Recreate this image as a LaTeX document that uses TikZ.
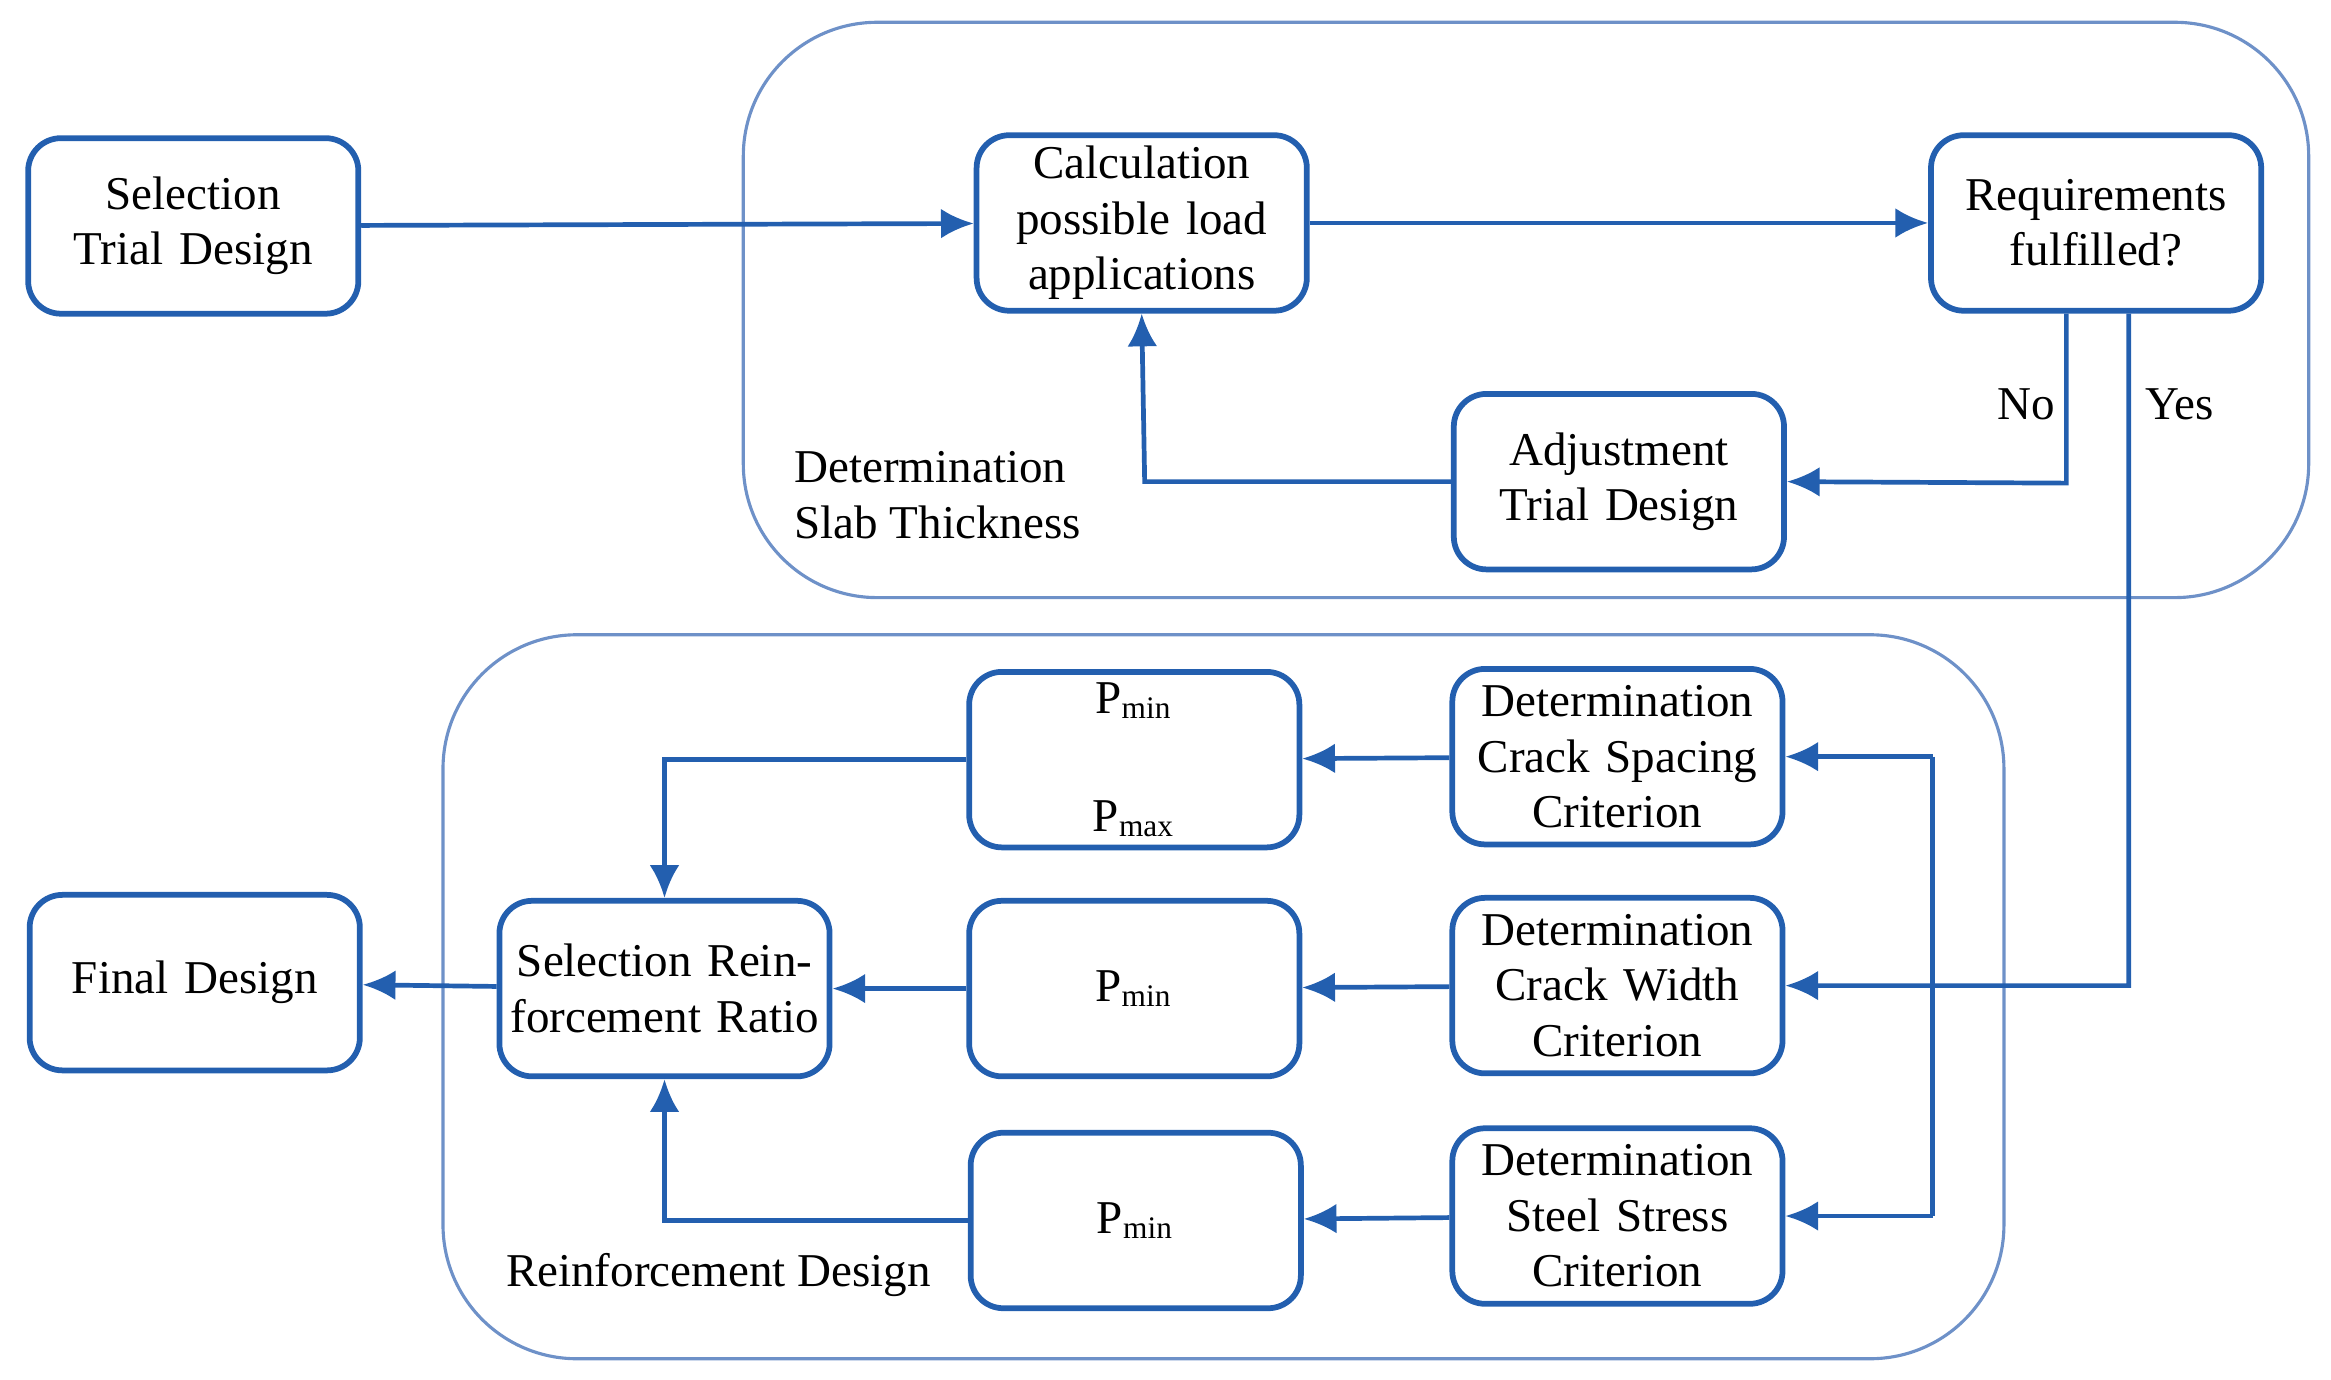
\documentclass[tikz,border=0pt]{standalone}
\usepackage{fontspec}
\setmainfont{Liberation Serif}
\usetikzlibrary{arrows.meta, positioning}
\definecolor{flowblue}{RGB}{35,95,175}
\definecolor{groupblue}{RGB}{110,145,200}
\tikzstyle{process} = [rectangle, rounded corners=2.2mm, minimum width=2.22cm, minimum height=1.18cm, text width=2.2cm, align=center, draw=flowblue, line width=1.1pt, font=\fontsize{9}{10.6}\selectfont, inner sep=0pt]
\tikzstyle{group} = [draw=groupblue, line width=0.6pt, rounded corners=9mm]
\tikzstyle{arrow} = [draw=flowblue, line width=0.9pt, -{Latex[length=2.2mm, width=2mm]}]
\tikzstyle{line} = [draw=flowblue, line width=0.9pt]
\tikzstyle{label} = [font=\fontsize{9}{10.6}\selectfont, align=left]

\begin{document}
\begin{tikzpicture}[x=0.01cm, y=-0.01cm]
\useasboundingbox (0,0) rectangle (1568,928);
% groups
\draw [group] (500,15) rectangle (1553,402);
\draw [group] (298,427) rectangle (1348,914);
\node [label, anchor=west] (slablabel) at (522,333) {Determination\\Slab Thickness};
\node [label, anchor=west] (reinflabel) at (328,858) {Reinforcement Design};

% slab thickness
\node (trial) [process] at (130,152) {Selection Trial Design};
\node (calc) [process] at (768,150) {Calculation possible load applications};
\node (req) [process] at (1410,150) {Requirements fulfilled?};
\node (adjust) [process] at (1089,324) {Adjustment Trial Design};

% reinforcement design
\node (spacing) [process] at (1088,509) {Determination Crack Spacing Criterion};
\node (width) [process] at (1088,663) {Determination Crack Width Criterion};
\node (stress) [process] at (1088,818) {Determination Steel Stress Criterion};
\node (pminmax) [process] at (763,511) {P\textsubscript{min}\\[0.42cm]P\textsubscript{max}};
\node (pminw) [process] at (763,665) {P\textsubscript{min}};
\node (pmins) [process] at (764,821) {P\textsubscript{min}};
\node (ratio) [process] at (447,665) {Selection Reinforcement Ratio};
\node (final) [process] at (131,661) {Final Design};

\coordinate (nocorner) at (1390,325);
\coordinate (yescorner) at (1432,663);
\coordinate (adjcorner) at (770,324);
\coordinate (bracket) at (1300,663);

\draw [arrow] ([xshift=-0.2cm]req.south) -- ([xshift=-0.2cm]req.south |- nocorner) -- (adjust.east);
\node [label] (no) at (1363,272) {No};
\node [label] (yes) at (1466,272) {Yes};
\draw [arrow] (trial) -- (calc);
\draw [arrow] (calc) -- (req);
\draw [arrow] (adjust.west) -- (adjcorner) -- (calc.south);
\draw [arrow] ([xshift=0.22cm]req.south) -- (yescorner) -- (width.east);
\draw [line] (spacing.east -| bracket) -- (stress.east -| bracket);
\draw [arrow] (spacing.east -| bracket) -- (spacing.east);
\draw [arrow] (stress.east -| bracket) -- (stress.east);
\draw [arrow] (spacing) -- (pminmax);
\draw [arrow] (width) -- (pminw);
\draw [arrow] (stress) -- (pmins);
\draw [arrow] (pminw) -- (ratio);
\draw [arrow] (pminmax.west) -- (pminmax.west -| ratio.north) -- (ratio.north);
\draw [arrow] (pmins.west) -- (pmins.west -| ratio.south) -- (ratio.south);
\draw [arrow] (ratio) -- (final);
\end{tikzpicture}
\end{document}
